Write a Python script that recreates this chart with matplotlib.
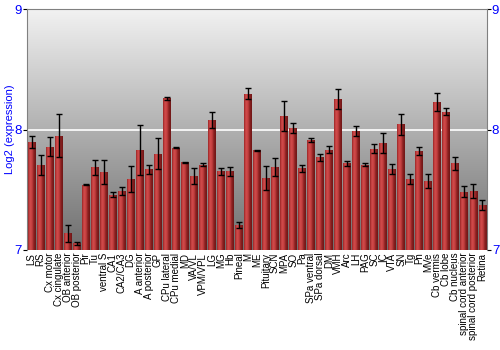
import matplotlib
matplotlib.use("Agg")
import matplotlib.pyplot as plt
import numpy as np
from matplotlib.colors import LinearSegmentedColormap

plt.rcParams["font.family"] = ["Liberation Sans", "DejaVu Sans"]

regions = [
    "LS", "RS", "Cx motor", "Cx cingulate", "OB anterior", "OB posterior",
    "Pir", "Tu", "ventral S", "CA1", "CA2/CA3", "DG", "A anterior",
    "A posterior", "GP", "CPu lateral", "CPu medial", "MD", "VA/VL",
    "VPM/VPL", "LG", "MG", "Hb", "Pineal", "M", "ME", "Pituitary", "SCN",
    "MPA", "SO", "Pa", "SPa ventral", "SPa dorsal", "DM", "VMH", "Arc", "LH",
    "PAG", "SC", "IC", "VTA", "SN", "Tg", "Pn", "MVe", "Cb vermis", "Cb lobe",
    "Cb nucleus", "spinal cord anterior", "spinal cord posterior", "Retina",
]
expression = [
    7.895, 7.71, 7.86, 7.95, 7.138, 7.055,
    7.543, 7.686, 7.645, 7.46, 7.49, 7.59, 7.83,
    7.67, 7.80, 8.26, 7.85, 7.727, 7.614,
    7.708, 8.083, 7.653, 7.653, 7.21, 8.30, 7.83, 7.595, 7.69,
    8.116, 8.014, 7.678, 7.917, 7.77, 7.835, 8.253, 7.72, 7.99,
    7.708, 7.843, 7.893, 7.675, 8.044, 7.59, 7.826, 7.57, 8.229, 8.149,
    7.72, 7.485, 7.49, 7.372,
]
errors = [
    0.05, 0.083, 0.083, 0.18, 0.07, 0.011,
    0.005, 0.065, 0.1, 0.023, 0.033, 0.105, 0.21,
    0.04, 0.13, 0.01, 0.005, 0.004, 0.065,
    0.012, 0.067, 0.028, 0.04, 0.025, 0.047, 0.004, 0.1, 0.074,
    0.124, 0.043, 0.028, 0.017, 0.028, 0.028, 0.083, 0.02, 0.04,
    0.012, 0.036, 0.083, 0.04, 0.085, 0.04, 0.033, 0.058, 0.076, 0.028,
    0.054, 0.048, 0.058, 0.044,
]

fig = plt.figure(figsize=(5, 3.5), dpi=100)
ax = fig.add_axes([0.054, 0.286, 0.92, 0.687])

x = np.arange(len(regions))
ax.set_xlim(-0.5, len(regions) - 0.5)
ax.set_ylim(7, 9)

# grey background gradient, light at the top
bg = LinearSegmentedColormap.from_list("bg", ["#f2f2f2", "#6e6e6e"])
grad = np.linspace(0, 1, 256).reshape(-1, 1)
ax.imshow(grad, cmap=bg, aspect="auto", extent=(-0.5, len(regions) - 0.5, 7, 9),
          zorder=0, origin="upper")
ax.axhline(8, color="white", lw=1.2, zorder=1)

bars = ax.bar(x, np.array(expression) - 7, bottom=7, width=0.88,
              color="#b83636", edgecolor="none", zorder=2)

# red horizontal gradient inside every bar
red = LinearSegmentedColormap.from_list(
    "red", ["#9a2626", "#d24c4c", "#c44040", "#8a2020", "#6e1616"])
hgrad = np.linspace(0, 1, 64).reshape(1, -1)
for b in bars:
    im = ax.imshow(hgrad, cmap=red, aspect="auto",
                   extent=(b.get_x(), b.get_x() + b.get_width(), 7, b.get_height() + 7),
                   zorder=2.5)
    im.set_clip_path(b)

ax.errorbar(x, expression, yerr=errors, fmt="none", ecolor="black",
            elinewidth=1, capsize=2.5, capthick=1, zorder=3)

ax.set_xticks(x)
ax.set_xticklabels(regions, rotation=90, fontsize=7)
ax.tick_params(axis="x", length=0, pad=2)
ax.set_yticks([7, 8, 9])
ax.tick_params(axis="y", right=True, labelright=True, labelsize=9.5,
               labelcolor="blue", length=3, pad=0.5)
ax.set_ylabel("Log2 (expression)", color="blue", fontsize=8)
ax.yaxis.set_label_coords(-0.026, 0.5)

for s in ["left", "right", "top"]:
    ax.spines[s].set_color("#808080")
ax.spines["bottom"].set_visible(False)

fig.savefig("out.png", dpi=100)
